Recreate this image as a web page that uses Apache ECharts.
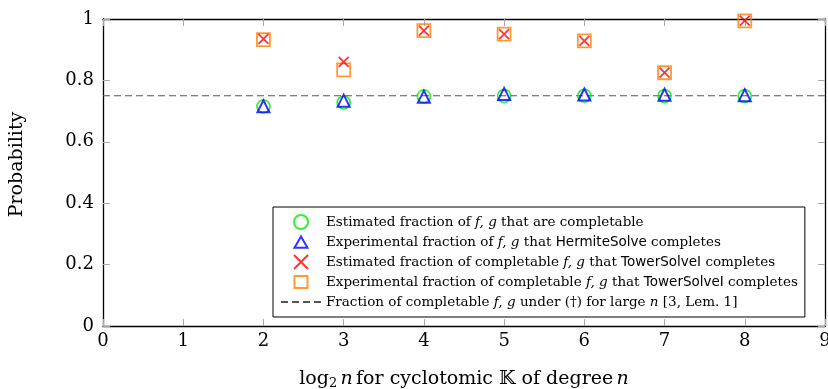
<!DOCTYPE html>
<html>
<head>
<meta charset="utf-8">
<script src="https://cdn.jsdelivr.net/npm/echarts@6/dist/echarts.min.js"></script>
<style>
html,body{margin:0;padding:0;background:#fff;}
#chart{width:828px;height:389px;}
</style>
</head>
<body>
<div id="chart"></div>
<script>
// ---- data ----
const logN = [2, 3, 4, 5, 6, 7, 8];
const estCompletable = [0.715, 0.728, 0.748, 0.749, 0.750, 0.749, 0.749];
const expHermite = [0.716, 0.734, 0.747, 0.756, 0.754, 0.753, 0.752];
const estTower = [0.935, 0.860, 0.962, 0.951, 0.929, 0.825, 0.995];
const expTower = [0.933, 0.834, 0.962, 0.951, 0.929, 0.825, 0.994];
const limitValue = 0.75;
const xRange = [0, 9];
const yTickLabels = ['0', '0.2', '0.4', '0.6', '0.8', '1'];
const legendNames = ['estComp', 'expHerm', 'estTower', 'expTower', 'limit'];
const legendTexts = {
  estComp: 'Estimated fraction of {i|f, g} that are completable',
  expHerm: 'Experimental fraction of {i|f, g} that {s|HermiteSolve} completes',
  estTower: 'Estimated fraction of completable {i|f, g} that {s|TowerSolveI} completes',
  expTower: 'Experimental fraction of completable {i|f, g} that {s|TowerSolveI} completes',
  limit: 'Fraction of completable {i|f, g} under (†) for large {i|n} [3, Lem. 1]'
};

const pairs = (ys) => logN.map((x, i) => [x, ys[i]]);
const SERIF = "'DejaVu Serif', 'Liberation Serif', serif";
const SANS = "'DejaVu Sans', 'Liberation Sans', sans-serif";

// legend icons drawn in a 40x14 box (leading moves keep the aspect)
const legendIcons = {
  expHerm: 'path://M0,0M40,14M20,1.5L26.5,12.8L13.5,12.8Z',
  expTower: 'path://M0,0M40,14M13.5,1L26.5,1L26.5,13L13.5,13Z'
};

const chart = echarts.init(document.getElementById('chart'), null, {renderer: 'canvas'});

const frameLine = {show: true, onZero: false, lineStyle: {color: '#000', width: 1.3}};
const innerTick = {show: true, inside: true, length: 7, lineStyle: {color: '#a8a8a8', width: 1}};

chart.setOption({
  animation: false,
  backgroundColor: '#fff',
  grid: {left: 103, right: 3, top: 19, bottom: 63, containLabel: false, outerBoundsMode: 'none'},
  xAxis: [{
    type: 'value', min: xRange[0], max: xRange[1], interval: 1,
    axisLine: frameLine, axisTick: innerTick, splitLine: {show: false},
    axisLabel: {color: '#000', fontFamily: SERIF, fontSize: 18, margin: 6},
    name: '{l|log}{sub|2} {i|n} {l|for cyclotomic 𝕂 of degree} {i|n}',
    nameLocation: 'middle', nameGap: 42,
    nameTextStyle: {
      rich: {
        l: {fontFamily: SERIF, fontSize: 19, color: '#000'},
        i: {fontFamily: SERIF, fontSize: 19, fontStyle: 'italic', color: '#000'},
        sub: {fontFamily: SERIF, fontSize: 13, color: '#000', verticalAlign: 'bottom', padding: [9, 0, 0, 0]}
      }
    }
  }, {
    type: 'value', position: 'top', min: xRange[0], max: xRange[1], interval: 1,
    axisLine: frameLine, axisTick: innerTick, axisLabel: {show: false}, splitLine: {show: false}
  }],
  yAxis: [{
    type: 'value', min: 0, max: 1, interval: 0.2,
    axisLine: frameLine, axisTick: innerTick, splitLine: {show: false},
    axisLabel: {
      color: '#000', fontFamily: SERIF, fontSize: 18, margin: 9,
      formatter: (v) => yTickLabels[Math.round(v / 0.2)]
    },
    name: 'Probability', nameLocation: 'middle', nameGap: 76,
    nameTextStyle: {fontFamily: SERIF, fontSize: 19, color: '#000', padding: [0, 0, 0, 16]}
  }, {
    type: 'value', position: 'right', min: 0, max: 1, interval: 0.2,
    axisLine: frameLine, axisTick: innerTick, axisLabel: {show: false}, splitLine: {show: false}
  }],
  legend: {
    orient: 'vertical', left: 273, top: 207,
    padding: [7, 7, 7, 7],
    itemWidth: 40, itemHeight: 14, itemGap: 4,
    borderColor: '#000', borderWidth: 1, backgroundColor: '#fff',
    selectedMode: false,
    data: legendNames.map((n) => {
      if (n === 'limit') {
        return {name: n, itemStyle: {color: 'rgba(0,0,0,0)', borderColor: 'rgba(0,0,0,0)', opacity: 0}};
      }
      return legendIcons[n] ? {name: n, icon: legendIcons[n]} : {name: n};
    }),
    formatter: (name) => legendTexts[name],
    textStyle: {
      fontFamily: SERIF, fontSize: 13.5, color: '#000', lineHeight: 16,
      rich: {
        i: {fontFamily: SERIF, fontSize: 13.5, fontStyle: 'italic', color: '#000', lineHeight: 16},
        s: {fontFamily: SANS, fontSize: 13.5, color: '#000', lineHeight: 16}
      }
    }
  },
  series: [
    {
      name: 'limit', type: 'line', data: [[xRange[0], limitValue], [xRange[1], limitValue]],
      symbol: 'none', z: 1,
      lineStyle: {color: '#555', width: 1.2, type: [7, 4]},
      itemStyle: {color: '#555'}
    },
    {
      name: 'estComp', type: 'scatter', data: pairs(estCompletable),
      symbol: 'circle', symbolSize: 13, z: 2,
      itemStyle: {color: 'rgba(0,0,0,0)', borderColor: '#00ee00', borderWidth: 1.7}
    },
    {
      name: 'expHerm', type: 'scatter', data: pairs(expHermite),
      symbol: 'triangle', symbolSize: 12, z: 3,
      itemStyle: {color: 'rgba(0,0,0,0)', borderColor: '#0000ff', borderWidth: 2}
    },
    {
      name: 'expTower', type: 'scatter', data: pairs(expTower),
      symbol: 'rect', symbolSize: 13, z: 4,
      itemStyle: {color: 'rgba(0,0,0,0)', borderColor: '#ff8000', borderWidth: 1.8}
    },
    {
      name: 'estTower', type: 'scatter', data: pairs(estTower),
      symbol: 'path://M0,0L10,10M10,0L0,10', symbolSize: 10, z: 5,
      itemStyle: {color: 'rgba(0,0,0,0)', borderColor: '#ff0000', borderWidth: 1.8}
    }
  ]
});
</script>
</body>
</html>
